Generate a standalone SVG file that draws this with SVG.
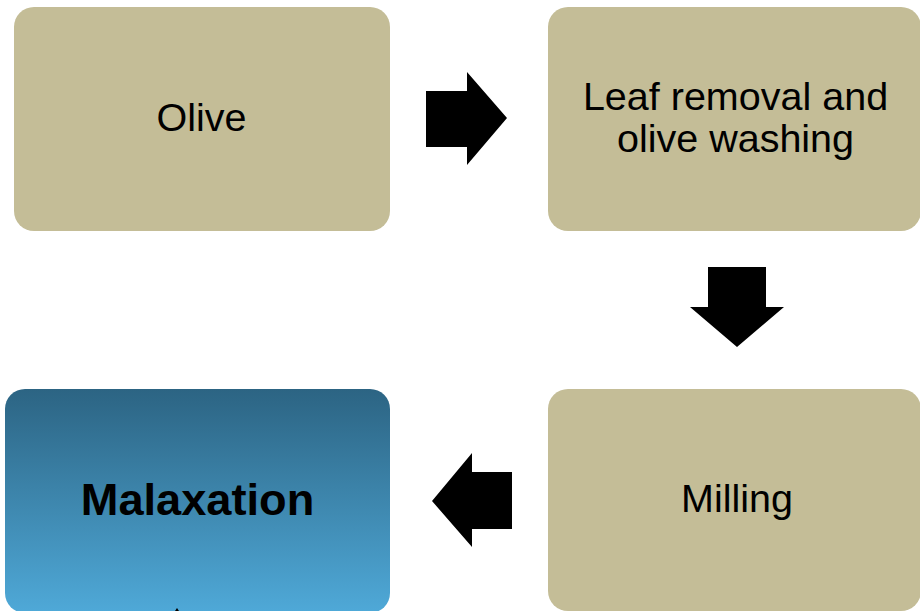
<svg xmlns="http://www.w3.org/2000/svg" width="920" height="611" viewBox="0 0 920 611">
<style>
.box{fill:#c4bd97}
.t{font-family:"Liberation Sans",Arial,sans-serif;font-size:39.5px;fill:#000;text-anchor:middle}
.b{font-weight:bold;font-size:45.2px}
.arr{fill:#000}
</style>
<defs>
<linearGradient id="g" x1="0" y1="0" x2="0" y2="1">
<stop offset="0" stop-color="#2c6483"/>
<stop offset="1" stop-color="#4fa9d8"/>
</linearGradient>
</defs>
<rect width="920" height="611" fill="#fff"/>
<g id="olive"><rect class="box" x="14" y="7" width="376" height="224" rx="20"/><text class="t" x="201.5" y="131">Olive</text></g>
<g id="leaf"><rect class="box" x="548" y="7" width="373" height="224" rx="20"/><text class="t" x="735.5" y="110">Leaf removal and</text><text class="t" x="735.5" y="152">olive washing</text></g>
<g id="milling"><rect class="box" x="548" y="389" width="373" height="222" rx="20"/><text class="t" x="737" y="512">Milling</text></g>
<g id="malaxation"><rect x="5" y="389" width="385" height="224" rx="20" fill="url(#g)"/><text class="t b" x="197.5" y="515">Malaxation</text></g>
<g id="connectors">
<polygon class="arr" points="426,91 467,91 467,72 507,118 467,165 467,147 426,147"/>
<polygon class="arr" points="708,267 766,267 766,307 784,307 737,347 690,307 708,307"/>
<polygon class="arr" points="512,472 472,472 472,453 432,501 472,547 472,529 512,529"/>
<polygon class="arr" points="177,608 179,611 175,611"/>
</g>
</svg>
